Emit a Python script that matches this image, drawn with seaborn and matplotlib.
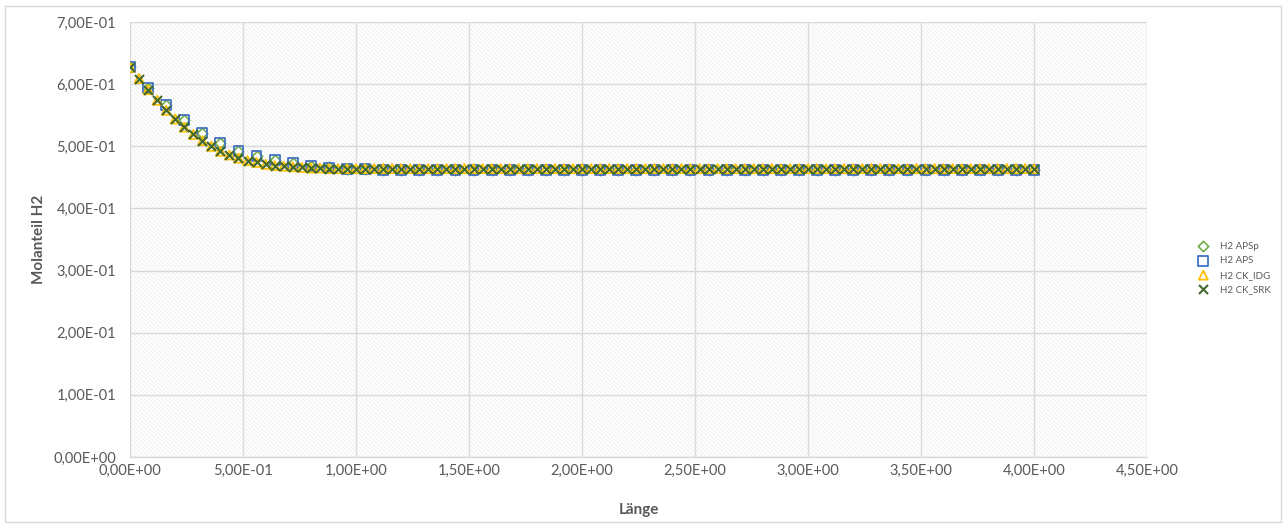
import numpy as np
import pandas as pd
import matplotlib
matplotlib.use("Agg")
import matplotlib.pyplot as plt
from matplotlib.patches import Rectangle
from matplotlib.ticker import FuncFormatter, MultipleLocator
import seaborn as sns

# Position grids along the reactor length
laenge_aps = np.round(np.linspace(0.0, 4.0, 51), 2)   # step 0.08
laenge_ck = np.round(np.linspace(0.0, 4.0, 101), 2)   # step 0.04

# H2 mole fraction, APS models (same for APSp and APS)
h2_aps = [0.628, 0.594, 0.566, 0.542, 0.522, 0.505, 0.492, 0.484, 0.478,
          0.473, 0.469, 0.466, 0.464, 0.463] + [0.462] * 37
h2_apsp = list(h2_aps)

# H2 mole fraction, CK models (ideal gas and SRK coincide)
h2_ck_idg = [0.627, 0.609, 0.591, 0.574, 0.558, 0.544, 0.531, 0.519, 0.509,
             0.500, 0.492, 0.486, 0.481, 0.477, 0.474, 0.471, 0.469, 0.468,
             0.467, 0.466, 0.465, 0.465, 0.464] + [0.464] * 78
h2_ck_srk = list(h2_ck_idg)

series_names = ["H2 APSp", "H2 APS", "H2 CK_IDG", "H2 CK_SRK"]

sns.set_theme(style="white")
plt.rcParams["font.family"] = ["Lato", "DejaVu Sans"]
plt.rcParams["hatch.linewidth"] = 0.5

fig = plt.figure(figsize=(12.85, 5.27), dpi=100)
ax = fig.add_axes([130 / 1285, 1 - 457 / 527, (1147 - 130) / 1285, (457 - 22) / 527])

# hatched plot-area background
ax.patch.set_visible(False)
ax.add_patch(Rectangle((0, 0), 1, 1, transform=ax.transAxes, facecolor="white",
                       edgecolor="#EAEAEA", linewidth=0, hatch="\\" * 8, zorder=0))

df_aps = pd.DataFrame({"x": laenge_aps, "apsp": h2_apsp, "aps": h2_aps})
df_ck = pd.DataFrame({"x": laenge_ck, "idg": h2_ck_idg, "srk": h2_ck_srk})

sns.scatterplot(data=df_aps, x="x", y="apsp", ax=ax, marker="D", s=28,
                facecolor="white", edgecolor="#70AD47", linewidth=1.2,
                label=series_names[0], zorder=3)
sns.scatterplot(data=df_aps, x="x", y="aps", ax=ax, marker="s", s=50,
                facecolor="none", edgecolor="#4472C4", linewidth=1.3,
                label=series_names[1], zorder=4)
sns.scatterplot(data=df_ck, x="x", y="idg", ax=ax, marker="^", s=42,
                facecolor="none", edgecolor="#FFC000", linewidth=1.3,
                label=series_names[2], zorder=5)
sns.scatterplot(data=df_ck, x="x", y="srk", ax=ax, marker="x", s=42,
                color="#43682B", linewidth=1.5,
                label=series_names[3], zorder=6)

ax.set_xlim(0, 4.5)
ax.set_ylim(0, 0.7)
ax.xaxis.set_major_locator(MultipleLocator(0.5))
ax.yaxis.set_major_locator(MultipleLocator(0.1))

fmt = FuncFormatter(lambda v, p: f"{v:.2E}".replace(".", ","))
ax.xaxis.set_major_formatter(fmt)
ax.yaxis.set_major_formatter(fmt)

ax.grid(True, color="#D9D9D9", linewidth=1.0, zorder=1)
ax.set_axisbelow(True)
for side in ("top", "right", "left"):
    ax.spines[side].set_visible(False)
ax.spines["bottom"].set_color("#D9D9D9")
ax.spines["bottom"].set_linewidth(1.0)

ax.tick_params(axis="both", length=0, labelsize=10.5, labelcolor="#595959")
ax.tick_params(axis="y", pad=10)
ax.tick_params(axis="x", pad=5)

ax.set_xlabel("Länge", fontsize=11, fontweight="bold", color="#595959", labelpad=18)
ax.set_ylabel("Molanteil H2", fontsize=11, fontweight="bold", color="#595959", labelpad=5)

leg = ax.legend(loc="center left", bbox_to_anchor=(1196 / 1285, 1 - 268 / 527),
                bbox_transform=fig.transFigure, frameon=False, fontsize=7,
                handlelength=1.5, handletextpad=1.0, labelspacing=0.55,
                borderpad=0, borderaxespad=0)
for t in leg.get_texts():
    t.set_color("#595959")

# outer chart border
fig.add_artist(Rectangle((5 / 1285, 5 / 527), 1276 / 1285, 516 / 527,
                         transform=fig.transFigure, facecolor="none",
                         edgecolor="#D9D9D9", linewidth=1.0))

fig.savefig("out.png", dpi=100)
